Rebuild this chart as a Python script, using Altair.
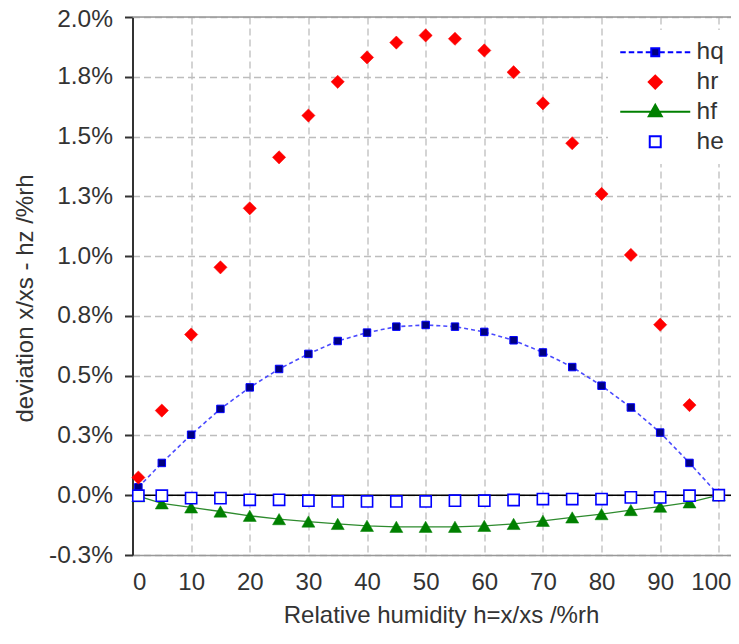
import altair as alt
import pandas as pd

# ---- data (deviation in %rh) ----
humidity = [1, 5, 10, 15, 20, 25, 30, 35, 40, 45, 50, 55, 60, 65, 70, 75, 80, 85, 90, 95, 100]
hq = [0.033, 0.135, 0.253, 0.361, 0.451, 0.528, 0.591, 0.645, 0.680, 0.705, 0.712,
      0.705, 0.683, 0.648, 0.597, 0.536, 0.458, 0.367, 0.262, 0.135, 0.0]
hr = [0.074, 0.354, 0.672, 0.953, 1.200, 1.413, 1.588, 1.729, 1.831, 1.893, 1.923,
      1.909, 1.860, 1.769, 1.639, 1.472, 1.260, 1.005, 0.713, 0.377, 0.0]
hf = [-0.004, -0.034, -0.051, -0.068, -0.086, -0.100, -0.110, -0.120, -0.128, -0.132, -0.132,
      -0.132, -0.128, -0.120, -0.107, -0.093, -0.079, -0.062, -0.048, -0.030, 0.0]
he = [-0.002, -0.002, -0.012, -0.012, -0.019, -0.019, -0.023, -0.026, -0.026, -0.026, -0.026,
      -0.023, -0.023, -0.020, -0.016, -0.016, -0.016, -0.009, -0.009, -0.002, 0.0]
series_names = ["hq", "hr", "hf", "he"]

x_ticks = [0, 10, 20, 30, 40, 50, 60, 70, 80, 90, 100]
y_ticks = [-0.25, 0.0, 0.25, 0.5, 0.75, 1.0, 1.25, 1.5, 1.75, 2.0]

rows = []
for name, vals in zip(series_names, [hq, hr, hf, he]):
    for h, v in zip(humidity, vals):
        rows.append({"h": h, "dev": v, "series": name})
df = pd.DataFrame(rows)

FONT = "Liberation Sans"
TXT = "#333333"
GRID = "#bdbdbd"

x_enc = alt.X(
    "h:Q",
    scale=alt.Scale(domain=[0, 102.08], nice=False, zero=False),
    axis=alt.Axis(
        values=x_ticks, format="d", title="Relative humidity h=x/xs /%rh",
        grid=True, gridDash=[7, 4], gridColor=GRID, gridWidth=1.3,
        ticks=False, tickSize=0, labelPadding=15, labelFontSize=24,
        labelColor=TXT, labelFont=FONT,
        labelOffset={"condition": {"test": "datum.value === 100", "value": -8}, "value": 0},
        domainColor="#999999", domainWidth=1.5,
        titleFont=FONT, titleFontSize=24, titleFontWeight="normal", titleColor=TXT,
        titleX=308.5, titleY=67, titleBaseline="alphabetic", titleAlign="center",
    ),
)
y_enc = alt.Y(
    "dev:Q",
    scale=alt.Scale(domain=[-0.25, 2.0], nice=False, zero=False),
    axis=alt.Axis(
        values=y_ticks,
        labelExpr="replace(format(datum.value, '.1f'), '\u2212', '-') + '%'",
        labelOffset={"condition": {"test": "datum.value === 2", "value": 2}, "value": 0},
        title="deviation x/xs - hz /%rh",
        grid=True, gridDash=[7, 4], gridColor=GRID, gridWidth=1.3,
        tickSize=8, tickWidth=2, tickColor=TXT, labelPadding=12,
        labelFontSize=24.5, labelColor=TXT, labelFont=FONT,
        domainColor=TXT, domainWidth=2,
        titleFont=FONT, titleFontSize=24, titleFontWeight="normal", titleColor=TXT,
        titleAngle=270, titleX=-100, titleY=281, titleBaseline="alphabetic",
        titleAlign="center",
    ),
)

base = alt.Chart(df)

zero_line = alt.Chart(pd.DataFrame({"k": [0]})).mark_rule(
    color="black", strokeWidth=1.6
).encode(y=alt.datum(0.0))
top_line = alt.Chart(pd.DataFrame({"k": [0]})).mark_rule(
    color="#999999", strokeWidth=1.5
).encode(y=alt.datum(2.0))

hf_line = base.transform_filter(alt.datum.series == "hf").mark_line(
    color="#2e8b2e", strokeWidth=1.3
).encode(x=x_enc, y=y_enc)
hf_pts = base.transform_filter(alt.datum.series == "hf").mark_point(
    shape="triangle-up", filled=True, fill="#008000", stroke="#008000",
    strokeWidth=0.5, size=170, opacity=1
).encode(x=x_enc, y=y_enc)

hq_line = base.transform_filter(alt.datum.series == "hq").mark_line(
    color="#4a4aff", strokeDash=[4, 3], strokeWidth=1.6
).encode(x=x_enc, y=y_enc)
hq_pts = base.transform_filter(alt.datum.series == "hq").mark_point(
    shape="square", filled=True, fill="#000080", stroke="#0000ff",
    strokeWidth=1, size=56, opacity=1
).encode(x=x_enc, y=y_enc)

hr_pts = base.transform_filter(alt.datum.series == "hr").mark_point(
    shape="diamond", filled=True, fill="#ff0000", stroke="#ff0000",
    strokeWidth=0.5, size=175, opacity=1
).encode(x=x_enc, y=y_enc)

he_pts = base.transform_filter(alt.datum.series == "he").mark_point(
    shape="square", filled=True, fill="#ffffff", stroke="#0000ff",
    strokeWidth=1.6, size=125, opacity=1
).encode(x=x_enc, y=y_enc)

# ---- legend (symbols drawn as custom paths: line + marker) ----
path_hq = ("M-1,0L-0.45,0M-0.15,0L0.4,0M0.7,0L1.25,0M1.55,0L2.05,0"
           "M2.95,0L3.45,0M3.75,0L4.3,0M4.6,0L5.15,0M5.45,0L6,0"
           "M2.1,-0.4L2.9,-0.4L2.9,0.4L2.1,0.4Z")
path_hr = "M1.85,0L2.5,-0.65L3.15,0L2.5,0.65Z"
path_hf = "M-1,0L6,0M1.85,0.45L2.5,-0.7L3.15,0.45Z"
path_he = "M1.95,-0.55L3.05,-0.55L3.05,0.55L1.95,0.55Z"

leg = alt.Legend(
    title=None, orient="none", legendX=475.5, legendY=13, padding=10,
    fillColor="white", labelFont=FONT, labelFontSize=24.5, labelColor=TXT,
    labelOffset=54, rowPadding=4.8, symbolSize=400, symbolStrokeWidth=2,
    symbolOpacity=1,
)
legend_layer = base.transform_filter("false").mark_point(
    filled=True, opacity=1, strokeWidth=2
).encode(
    x=x_enc, y=y_enc,
    shape=alt.Shape("series:N", scale=alt.Scale(domain=series_names,
                    range=[path_hq, path_hr, path_hf, path_he]), legend=leg),
    fill=alt.Fill("series:N", scale=alt.Scale(domain=series_names,
                  range=["#000080", "#ff0000", "#008000", "#ffffff"]), legend=leg),
    stroke=alt.Stroke("series:N", scale=alt.Scale(domain=series_names,
                      range=["#0000ff", "#ff0000", "#008000", "#0000ff"]), legend=leg),
)

chart = alt.layer(
    zero_line, top_line, hf_line, hf_pts, hq_line, hq_pts, hr_pts, he_pts, legend_layer
).properties(
    width=598.5, height=538,
    autosize=alt.AutoSizeParams(type="none"),
    padding={"left": 124.5, "top": 9, "right": 0, "bottom": 73},
).configure_view(stroke="transparent").configure(background="white")

chart.save("out.html", embed_options={"renderer": "svg", "actions": False})
